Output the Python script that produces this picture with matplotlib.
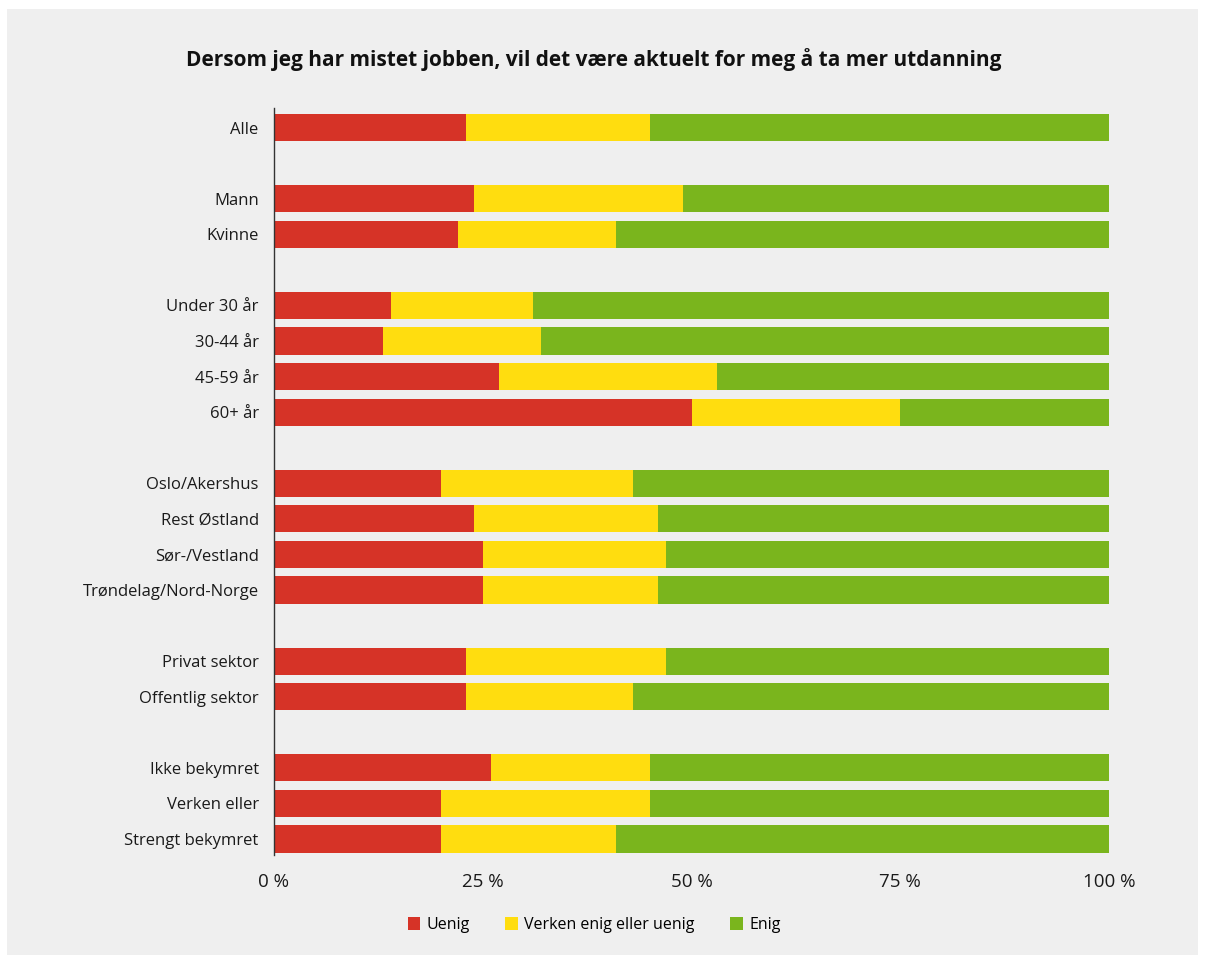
import matplotlib.pyplot as plt
from matplotlib.patches import Rectangle

plt.rcParams['font.family'] = ['Open Sans', 'DejaVu Sans']

# data (percent)
groups = ['Alle', '', 'Mann', 'Kvinne', '',
          'Under 30 år', '30-44 år', '45-59 år', '60+ år', '',
          'Oslo/Akershus', 'Rest Østland', 'Sør-/Vestland', 'Trøndelag/Nord-Norge', '',
          'Privat sektor', 'Offentlig sektor', '',
          'Ikke bekymret', 'Verken eller', 'Strengt bekymret']
uenig = [23, None, 24, 22, None, 14, 13, 27, 50, None, 20, 24, 25, 25, None, 23, 23, None, 26, 20, 20]
verken = [22, None, 25, 19, None, 17, 19, 26, 25, None, 23, 22, 22, 21, None, 24, 20, None, 19, 25, 21]
enig = [55, None, 51, 59, None, 69, 68, 47, 25, None, 57, 54, 53, 54, None, 53, 57, None, 55, 55, 59]

series_names = ['Uenig', 'Verken enig eller uenig', 'Enig']
colors = ['#d63327', '#ffdd0f', '#7ab51d']
bg = '#efefef'

fig = plt.figure(figsize=(12.06, 9.63), dpi=100, facecolor='white')
fig.patches.append(Rectangle((7/1206, 1-955/963), (1198-7)/1206, (955-9)/963,
                             transform=fig.transFigure, facecolor=bg, edgecolor='none', zorder=-1))

ax = fig.add_axes([274/1206, 1-855/963, (1109-274)/1206, (855-108)/963])
ax.set_facecolor(bg)

rows = [i for i, g in enumerate(groups) if g]
left = [0] * len(rows)
for vals, name, c in zip([uenig, verken, enig], series_names, colors):
    w = [vals[i] for i in rows]
    ax.barh(rows, w, left=left, height=0.76, color=c, label=name)
    left = [a + b for a, b in zip(left, w)]

ax.set_ylim(20.45, -0.55)
ax.set_xlim(0, 100)
ax.set_yticks(rows)
ax.set_yticklabels([groups[i] for i in rows], fontsize=12, color='#1a1a1a')
ax.set_xticks([0, 25, 50, 75, 100])
ax.set_xticklabels(['0 %', '25 %', '50 %', '75 %', '100 %'], fontsize=13.5, color='#1a1a1a')
ax.tick_params(axis='both', length=0)
ax.tick_params(axis='y', pad=11)
ax.tick_params(axis='x', pad=13)
for s in ['top', 'right', 'bottom']:
    ax.spines[s].set_visible(False)
ax.spines['left'].set_color('#333333')
ax.spines['left'].set_linewidth(1.0)

fig.text(594/1206, 1-60/963, 'Dersom jeg har mistet jobben, vil det være aktuelt for meg å ta mer utdanning',
         ha='center', va='center', fontsize=15, fontweight='bold', color='#111111')

fig.legend(loc='center', bbox_to_anchor=(594/1206, 1-925/963), ncol=3, frameon=False,
           fontsize=11.5, handlelength=0.8, handleheight=0.8, columnspacing=2.2, handletextpad=0.4)

plt.savefig('out.png', dpi=100, facecolor='white')
